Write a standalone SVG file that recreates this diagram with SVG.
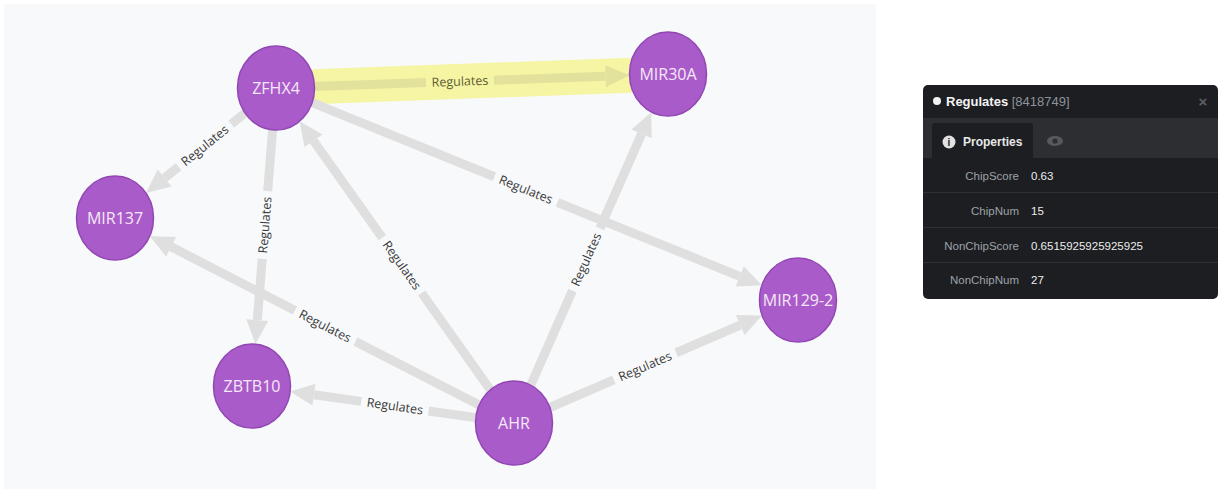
<svg xmlns="http://www.w3.org/2000/svg" width="1220" height="492" viewBox="0 0 1220 492">
  <style>
    .shaft { fill: none; stroke: #dfdfdf; stroke-width: 9; }
    .head { fill: #dfdfdf; }
    .lbl { font-family: "Open Sans", "Liberation Sans", sans-serif; font-size: 12.5px; fill: #3a3a3a; text-anchor: middle; }
    .sel .shaft { stroke: #e2e29c; }
    .sel .head { fill: #e2e29c; }
    .sel .lbl { fill: #5e5e34; }
    .halo { fill: #f5f5a4; }
    .node ellipse { fill: #a95cc9; stroke: #9146b4; stroke-width: 1.5; }
    .node text { font-family: "Open Sans", "Liberation Sans", sans-serif; font-size: 16px; fill: #f6e8f8; text-anchor: middle; }
    .ui { font-family: "Liberation Sans", Arial, sans-serif; }
    .key { font-size: 11.5px; fill: #9ea2a8; text-anchor: end; }
    .val { font-size: 11.5px; fill: #ececec; }
    .sep { stroke: #2f3135; stroke-width: 1; }
  </style>

  <!-- canvas -->
  <rect width="1220" height="492" fill="#ffffff"/>
  <rect x="4" y="4" width="872" height="485" fill="#f8f9fb"/>

  <!-- relationships -->
  <g id="edges">
    <g id="e-zfhx4-mir30a" class="sel" transform="translate(314.5 86.6) rotate(-2.05)">
      <rect class="halo" x="-2" y="-17.5" width="319" height="35"/>
      <path class="shaft" d="M0 0H111.6M179.6 0H291.25"/>
      <path class="head" d="M291.25 -11L315.25 0L291.25 11Z"/>
      <text class="lbl" x="145.6" y="0" dy="0.35em">Regulates</text>
    </g>
    <g id="e-zfhx4-mir137" transform="translate(245.1 113.0) rotate(141.08)">
      <path class="shaft" d="M0 0H17.7M85.7 0H103.4"/>
      <path class="head" d="M103.4 -11L127.4 0L103.4 11Z"/>
      <text class="lbl" x="51.7" y="0" dy="0.35em" transform="rotate(180 51.7 0)">Regulates</text>
    </g>
    <g id="e-zfhx4-zbtb10" transform="translate(272.6 129.8) rotate(94.6)">
      <path class="shaft" d="M0 0H61.5M129.5 0H191"/>
      <path class="head" d="M191 -11L215 0L191 11Z"/>
      <text class="lbl" x="95.5" y="0" dy="0.35em" transform="rotate(180 95.5 0)">Regulates</text>
    </g>
    <g id="e-ahr-zfhx4" transform="translate(490.4 389.8) rotate(-125.39)">
      <path class="shaft" d="M0 0H118.75M186.75 0H305.5"/>
      <path class="head" d="M305.5 -11L329.5 0L305.5 11Z"/>
      <text class="lbl" x="152.75" y="0" dy="0.35em" transform="rotate(180 152.75 0)">Regulates</text>
    </g>
    <g id="e-ahr-mir137" transform="translate(479.2 405.1) rotate(-152.81)">
      <path class="shaft" d="M0 0H139.15M207.15 0H346.3"/>
      <path class="head" d="M346.3 -11L370.3 0L346.3 11Z"/>
      <text class="lbl" x="173.15" y="0" dy="0.35em" transform="rotate(180 173.15 0)">Regulates</text>
    </g>
    <g id="e-ahr-zbtb10" transform="translate(475.8 417.6) rotate(-171.96)">
      <path class="shaft" d="M0 0H47.75M115.75 0H163.5"/>
      <path class="head" d="M163.5 -11L187.5 0L163.5 11Z"/>
      <text class="lbl" x="81.75" y="0" dy="0.35em" transform="rotate(180 81.75 0)">Regulates</text>
    </g>
    <g id="e-ahr-mir30a" transform="translate(530.7 385.2) rotate(-66.19)">
      <path class="shaft" d="M0 0H103.4M171.4 0H274.75"/>
      <path class="head" d="M274.75 -11L298.75 0L274.75 11Z"/>
      <text class="lbl" x="137.4" y="0" dy="0.35em">Regulates</text>
    </g>
    <g id="e-ahr-mir129-2" transform="translate(549.8 407.5) rotate(-23.42)">
      <path class="shaft" d="M0 0H69.75M137.75 0H207.5"/>
      <path class="head" d="M207.5 -11L231.5 0L207.5 11Z"/>
      <text class="lbl" x="103.75" y="0" dy="0.35em">Regulates</text>
    </g>
    <g id="e-zfhx4-mir129-2" transform="translate(312.1 102.7) rotate(22.1)">
      <path class="shaft" d="M0 0H196.75M264.75 0H461.5"/>
      <path class="head" d="M461.5 -11L485.5 0L461.5 11Z"/>
      <text class="lbl" x="230.75" y="0" dy="0.35em">Regulates</text>
    </g>
  </g>

  <!-- nodes -->
  <g id="n-zfhx4" class="node"><ellipse cx="276" cy="88" rx="38.5" ry="42"/><text x="276" y="94">ZFHX4</text></g>
  <g id="n-mir30a" class="node"><ellipse cx="668" cy="74" rx="38.5" ry="42"/><text x="668" y="80">MIR30A</text></g>
  <g id="n-mir137" class="node"><ellipse cx="115" cy="218" rx="38.5" ry="42"/><text x="115" y="224">MIR137</text></g>
  <g id="n-zbtb10" class="node"><ellipse cx="252" cy="386" rx="38.5" ry="42"/><text x="252" y="392">ZBTB10</text></g>
  <g id="n-ahr" class="node"><ellipse cx="514" cy="423" rx="38.5" ry="42"/><text x="514" y="429">AHR</text></g>
  <g id="n-mir129-2" class="node"><ellipse cx="798" cy="300" rx="38.5" ry="42"/><text x="798" y="306">MIR129-2</text></g>

  <!-- inspector panel for the selected relationship -->
  <g id="inspector" class="ui">
    <rect x="923" y="85" width="295" height="214" rx="5" fill="#1c1e22"/>
    <rect x="923" y="118" width="295" height="40" fill="#2c2e32"/>
    <path d="M932 158V126a3 3 0 0 1 3-3H1030a3 3 0 0 1 3 3V158Z" fill="#1c1e22"/>
    <circle cx="937" cy="101" r="4" fill="#f2f2f2"/>
    <text x="946" y="106" font-size="13"><tspan font-weight="bold" fill="#f4f4f4">Regulates</tspan><tspan fill="#8e939a"> [8418749]</tspan></text>
    <text x="1203" y="107" font-size="15" font-weight="bold" fill="#5c5f64" text-anchor="middle">×</text>
    <circle cx="949" cy="142" r="6.5" fill="#e2e2e2"/>
    <text x="949" y="146" font-size="10" font-weight="bold" fill="#1c1e22" text-anchor="middle">i</text>
    <text x="963" y="146" font-size="12" font-weight="bold" fill="#e8e8e8">Properties</text>
    <ellipse cx="1055" cy="141" rx="8" ry="5" fill="#56595e"/>
    <circle cx="1055" cy="141" r="2.6" fill="#2c2e32"/>
    <line class="sep" x1="923" y1="192.5" x2="1218" y2="192.5"/>
    <line class="sep" x1="923" y1="227.5" x2="1218" y2="227.5"/>
    <line class="sep" x1="923" y1="262.5" x2="1218" y2="262.5"/>
    <text class="key" x="1019" y="180">ChipScore</text>
    <text class="val" x="1031" y="180">0.63</text>
    <text class="key" x="1019" y="215">ChipNum</text>
    <text class="val" x="1031" y="215">15</text>
    <text class="key" x="1019" y="250">NonChipScore</text>
    <text class="val" x="1031" y="250">0.6515925925925925</text>
    <text class="key" x="1019" y="284">NonChipNum</text>
    <text class="val" x="1031" y="284">27</text>
  </g>
</svg>
